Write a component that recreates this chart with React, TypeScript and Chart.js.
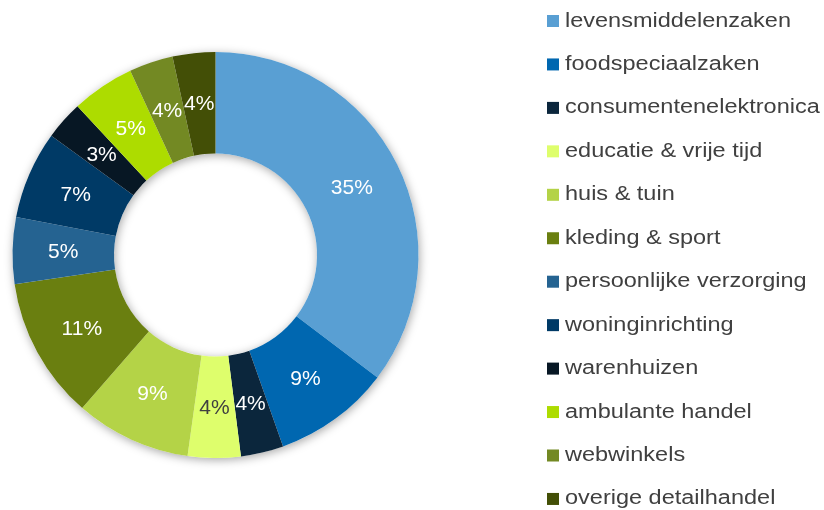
import React, { useEffect, useRef } from "react";
import { Chart, registerables } from "chart.js";

Chart.register(...registerables);

const categories = [
  "levensmiddelenzaken",
  "foodspeciaalzaken",
  "consumentenelektronica",
  "educatie & vrije tijd",
  "huis & tuin",
  "kleding & sport",
  "persoonlijke verzorging",
  "woninginrichting",
  "warenhuizen",
  "ambulante handel",
  "webwinkels",
  "overige detailhandel",
];

// slice sizes
const shares = [35.3, 9.3, 3.4, 4.2, 9.2, 11.3, 5.3, 7.0, 3.1, 5.0, 3.5, 3.4];

// percentages printed on the slices
const shareLabels = ["35%", "9%", "4%", "4%", "9%", "11%", "5%", "7%", "3%", "5%", "4%", "4%"];

const colors = [
  "#599FD3",
  "#0067B0",
  "#0B263C",
  "#DEFE6C",
  "#B4D347",
  "#6A7F10",
  "#256391",
  "#003A66",
  "#071724",
  "#ADDC00",
  "#738923",
  "#434F06",
];

const labelColors = [
  "#FFFFFF", "#FFFFFF", "#FFFFFF", "#404040", "#FFFFFF", "#FFFFFF",
  "#FFFFFF", "#FFFFFF", "#FFFFFF", "#FFFFFF", "#FFFFFF", "#FFFFFF",
];

const FONT = '"Liberation Sans", Arial, sans-serif';

const shadowPlugin = {
  id: "ringShadow",
  beforeDatasetsDraw(chart: any) {
    const meta = chart.getDatasetMeta(0);
    const arc = meta.data[0];
    if (!arc) return;
    const { x, y, innerRadius, outerRadius } = arc.getProps(["x", "y", "innerRadius", "outerRadius"], true);
    const ctx = chart.ctx;
    ctx.save();
    ctx.shadowColor = "rgba(0,0,0,0.35)";
    ctx.shadowBlur = 10;
    ctx.shadowOffsetX = 1;
    ctx.shadowOffsetY = 2;
    ctx.beginPath();
    ctx.arc(x, y, outerRadius, 0, Math.PI * 2);
    ctx.arc(x, y, innerRadius, 0, Math.PI * 2, true);
    ctx.closePath();
    ctx.fillStyle = "#ffffff";
    ctx.fill();
    ctx.restore();
  },
};

const labelPlugin = {
  id: "sliceLabels",
  afterDatasetsDraw(chart: any) {
    const meta = chart.getDatasetMeta(0);
    const ctx = chart.ctx;
    ctx.save();
    ctx.font = `21px ${FONT}`;
    ctx.textAlign = "center";
    ctx.textBaseline = "middle";
    meta.data.forEach((arc: any, i: number) => {
      const { x, y, startAngle, endAngle, innerRadius, outerRadius } = arc.getProps(
        ["x", "y", "startAngle", "endAngle", "innerRadius", "outerRadius"],
        true
      );
      const mid = (startAngle + endAngle) / 2;
      const r = (innerRadius + outerRadius) / 2;
      ctx.fillStyle = labelColors[i];
      ctx.fillText(shareLabels[i], x + Math.cos(mid) * r, y + Math.sin(mid) * r + 1);
    });
    ctx.restore();
  },
};

const legendPlugin = {
  id: "sideLegend",
  afterDraw(chart: any) {
    const ctx = chart.ctx;
    const x0 = 547;
    const y0 = 21;
    const step = 43.45;
    categories.forEach((c, i) => {
      const cy = y0 + i * step;
      ctx.save();
      ctx.fillStyle = colors[i];
      ctx.fillRect(x0, cy - 6, 12, 12);
      ctx.translate(x0 + 18, cy);
      ctx.scale(1.175, 1);
      ctx.font = `20px ${FONT}`;
      ctx.textAlign = "left";
      ctx.textBaseline = "middle";
      ctx.fillStyle = "#404040";
      ctx.fillText(c, 0, 0);
      ctx.restore();
    });
  },
};

export default function App() {
  const ref = useRef<HTMLCanvasElement>(null);
  useEffect(() => {
    document.body.style.margin = "0";
    const chart = new Chart(ref.current!, {
      type: "doughnut",
      data: {
        labels: categories,
        datasets: [
          {
            data: shares,
            backgroundColor: colors,
            borderWidth: 0,
          },
        ],
      },
      options: {
        responsive: false,
        animation: false,
        cutout: "50%",
        layout: { padding: { left: 12, right: 405, top: 52, bottom: 52 } },
        plugins: {
          legend: { display: false },
          tooltip: { enabled: false },
        },
      },
      plugins: [shadowPlugin, labelPlugin, legendPlugin],
    });
    return () => chart.destroy();
  }, []);
  return (
    <div style={{ position: "absolute", left: 0, top: 0, width: 824, height: 510, background: "#fff" }}>
      <canvas ref={ref} width={824} height={510} />
    </div>
  );
}
